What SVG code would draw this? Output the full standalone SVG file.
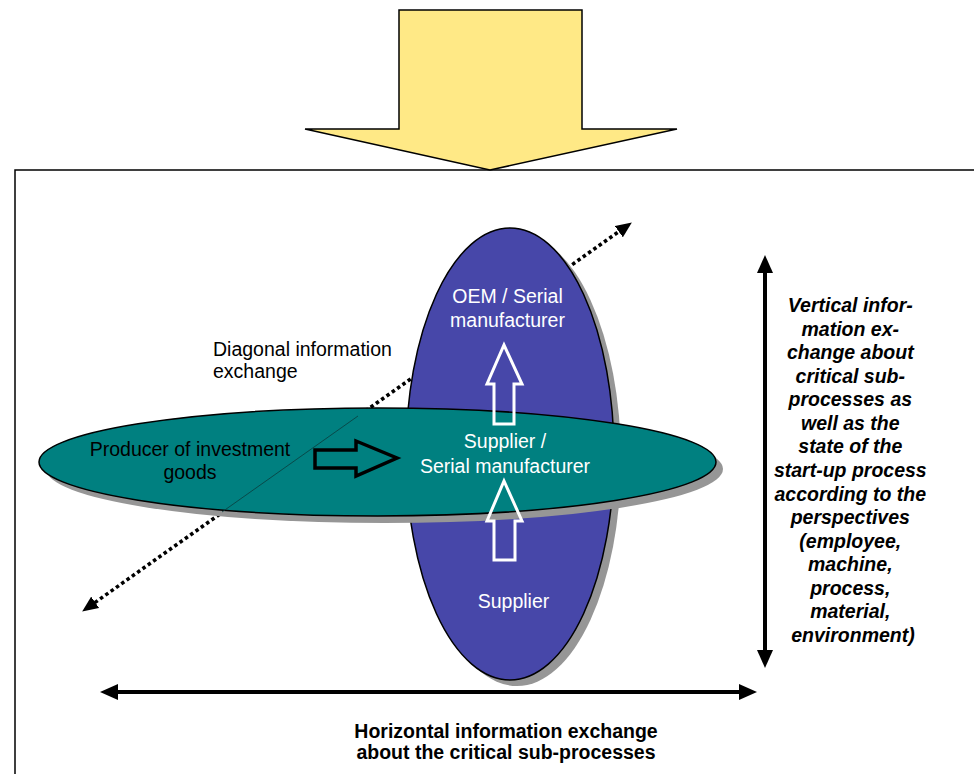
<svg xmlns="http://www.w3.org/2000/svg" width="974" height="774" viewBox="0 0 974 774">
  <defs>
    <style>
      .lbl { font-family: "Liberation Sans", Arial, sans-serif; font-size: 19.5px; }
      .white { fill: #ffffff; }
      .black { fill: #000000; }
      .bold { font-weight: bold; }
      .ital { font-style: italic; }
      .mid { text-anchor: middle; }
      .shadow { fill: #969696; stroke: none; }
      .outline { stroke: #000000; stroke-width: 1.5; }
      .hollow-w { fill: none; stroke: #ffffff; stroke-width: 3; stroke-linejoin: miter; }
      .hollow-b { fill: none; stroke: #000000; stroke-width: 3.5; stroke-linejoin: miter; }
      .thick { stroke: #000000; stroke-width: 4; fill: none; }
      .dotted { stroke: #000000; stroke-width: 3.6; stroke-dasharray: 3.5 3; fill: none; }
    </style>
    <marker id="headThick" viewBox="0 0 18 16" refX="8" refY="8" markerWidth="18" markerHeight="16" markerUnits="userSpaceOnUse" orient="auto-start-reverse">
      <path d="M0,0 L18,8 L0,16 Z" fill="#000000"/>
    </marker>
    <marker id="headDot" viewBox="0 0 16 14" refX="7" refY="7" markerWidth="16" markerHeight="14" markerUnits="userSpaceOnUse" orient="auto-start-reverse">
      <path d="M0,0 L16,7 L0,14 Z" fill="#000000"/>
    </marker>
  </defs>

  <rect width="974" height="774" fill="#ffffff"/>

  <!-- enclosing frame -->
  <g id="frame">
    <path d="M15,774 L15,170 L974,170" fill="none" stroke="#000000" stroke-width="1.5"/>
  </g>

  <!-- large block arrow entering the frame -->
  <g id="input-arrow">
    <polygon points="399,10 582,10 582,129 677,129 490,170 305,129 399,129" fill="#FFE986" stroke="#000000" stroke-width="1.5" stroke-linejoin="miter"/>
  </g>

  <g id="connectors">
    <!-- diagonal information exchange (runs behind the ellipses) -->
    <path id="diagonal" class="dotted" d="M89.5,606.4 L624.5,227.6" marker-start="url(#headDot)" marker-end="url(#headDot)"/>
  </g>

  <!-- vertical chain: OEM / supplier -->
  <g id="vertical-chain">
    <ellipse class="shadow" cx="517" cy="460" rx="104" ry="226"/>
    <ellipse class="outline" cx="510" cy="454" rx="104" ry="226" fill="#4747A9"/>
  </g>

  <!-- horizontal chain: producer of investment goods / supplier -->
  <g id="horizontal-chain">
    <ellipse class="shadow" cx="384.5" cy="469" rx="338.5" ry="54"/>
    <ellipse class="outline" cx="377.5" cy="462" rx="338.5" ry="54" fill="#008080"/>
    <line x1="222" y1="512" x2="358" y2="416" stroke="#0b3d3d" stroke-width="1" opacity="0.8"/>
  </g>

  <g id="flow-arrows">
    <!-- upward flows inside the vertical chain -->
    <polygon class="hollow-w" points="494,424 494,384 487,384 504,345 522,384 514,384 514,424"/>
    <polygon class="hollow-w" points="494,560 494,521 487,521 504,481 522,521 515,521 515,560"/>
    <!-- flow from the producer to the supplier -->
    <polygon class="hollow-b" points="315,450 356,450 356,441 397,458 356,476 356,468 315,468"/>
  </g>

  <g id="node-oem">
    <text class="lbl white mid" x="507.5" y="303">OEM / Serial</text>
    <text class="lbl white mid" x="507.5" y="327">manufacturer</text>
  </g>
  <g id="node-supplier-serial">
    <text class="lbl white mid" x="505" y="448">Supplier /</text>
    <text class="lbl white mid" x="505" y="473">Serial manufacturer</text>
  </g>
  <g id="node-supplier">
    <text class="lbl white mid" x="513.5" y="608">Supplier</text>
  </g>
  <g id="node-producer">
    <text class="lbl black mid" x="190" y="456">Producer of investment</text>
    <text class="lbl black mid" x="190" y="479">goods</text>
  </g>
  <g id="label-diagonal">
    <text class="lbl black" x="213" y="356">Diagonal information</text>
    <text class="lbl black" x="213" y="378">exchange</text>
  </g>

  <g id="connectors-axes">
    <path id="vertical-axis" class="thick" d="M765,265 L765,658" marker-start="url(#headThick)" marker-end="url(#headThick)"/>
    <path id="horizontal-axis" class="thick" d="M110,692 L747,692" marker-start="url(#headThick)" marker-end="url(#headThick)"/>
  </g>

  <g id="label-vertical">
    <text class="lbl black bold ital mid" x="853">
      <tspan x="853" y="312">Vertical infor-</tspan>
      <tspan x="853" y="335.6">mation ex-</tspan>
      <tspan x="853" y="359.1">change about</tspan>
      <tspan x="853" y="382.7">critical sub-</tspan>
      <tspan x="853" y="406.3">processes as</tspan>
      <tspan x="853" y="429.9">well as the</tspan>
      <tspan x="853" y="453.4">state of the</tspan>
      <tspan x="853" y="477">start-up process</tspan>
      <tspan x="853" y="500.6">according to the</tspan>
      <tspan x="853" y="524.1">perspectives</tspan>
      <tspan x="853" y="547.7">(employee,</tspan>
      <tspan x="853" y="571.3">machine,</tspan>
      <tspan x="853" y="594.9">process,</tspan>
      <tspan x="853" y="618.4">material,</tspan>
      <tspan x="853" y="642">environment)</tspan>
    </text>
  </g>

  <g id="label-horizontal">
    <text class="lbl black bold mid" x="506" y="738">Horizontal information exchange</text>
    <text class="lbl black bold mid" x="506" y="759">about the critical sub-processes</text>
  </g>
</svg>
